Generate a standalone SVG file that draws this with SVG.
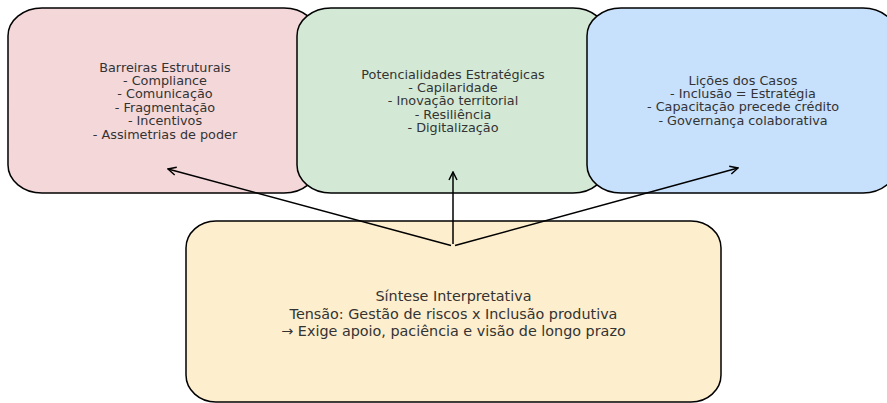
<svg xmlns="http://www.w3.org/2000/svg" width="887" height="403" viewBox="0 0 887 403">
<defs>
<style>
.box{stroke:#000;stroke-width:1.5}
.t{font-family:"DejaVu Sans",sans-serif;fill:#333;text-anchor:middle}
.s{font-size:12.8px}
.b{font-size:14.35px}
.c{stroke:#000;stroke-width:1.5;fill:none;marker-end:url(#ah)}
</style>
<marker id="ah" viewBox="0 0 10 10" refX="9" refY="5" markerWidth="10" markerHeight="10" markerUnits="userSpaceOnUse" orient="auto">
<path d="M1,1 L9,5 L1,9" fill="none" stroke="#000" stroke-width="1.5"/>
</marker>
</defs>
<rect width="887" height="403" fill="#fff"/>
<g id="barreiras">
<rect class="box" x="8" y="8" width="310" height="185" rx="34" ry="28" fill="#f4d7d9"/>
<text class="t s"><tspan x="165" y="71.6">Barreiras Estruturais</tspan><tspan x="165" y="85">- Compliance</tspan><tspan x="165" y="98.4">- Comunicação</tspan><tspan x="165" y="111.8">- Fragmentação</tspan><tspan x="165" y="125.2">- Incentivos</tspan><tspan x="165" y="138.6">- Assimetrias de poder</tspan></text>
</g>
<g id="potencialidades">
<rect class="box" x="297" y="8" width="310" height="185" rx="34" ry="28" fill="#d3e9d5"/>
<text class="t s"><tspan x="453" y="78.5">Potencialidades Estratégicas</tspan><tspan x="453" y="91.9">- Capilaridade</tspan><tspan x="453" y="105.3">- Inovação territorial</tspan><tspan x="453" y="118.7">- Resiliência</tspan><tspan x="453" y="132.1">- Digitalização</tspan></text>
</g>
<g id="licoes">
<rect class="box" x="587" y="8" width="310" height="185" rx="34" ry="28" fill="#c7e0fc"/>
<text class="t s"><tspan x="743" y="84.6">Lições dos Casos</tspan><tspan x="743" y="98">- Inclusão = Estratégia</tspan><tspan x="743" y="111.4">- Capacitação precede crédito</tspan><tspan x="743" y="124.8">- Governança colaborativa</tspan></text>
</g>
<g id="sintese">
<rect class="box" x="186" y="221" width="535" height="181" rx="30" ry="27" fill="#fdeecd"/>
<text class="t b"><tspan x="453.5" y="300.8">Síntese Interpretativa</tspan><tspan x="453.5" y="318.6">Tensão: Gestão de riscos x Inclusão produtiva</tspan><tspan x="453.5" y="336.4">→ Exige apoio, paciência e visão de longo prazo</tspan></text>
</g>
<g id="connectors">
<line class="c" x1="451" y1="245.5" x2="168" y2="169"/>
<line class="c" x1="453" y1="244" x2="453" y2="172"/>
<line class="c" x1="455" y1="245.5" x2="738" y2="168"/>
</g>
</svg>
